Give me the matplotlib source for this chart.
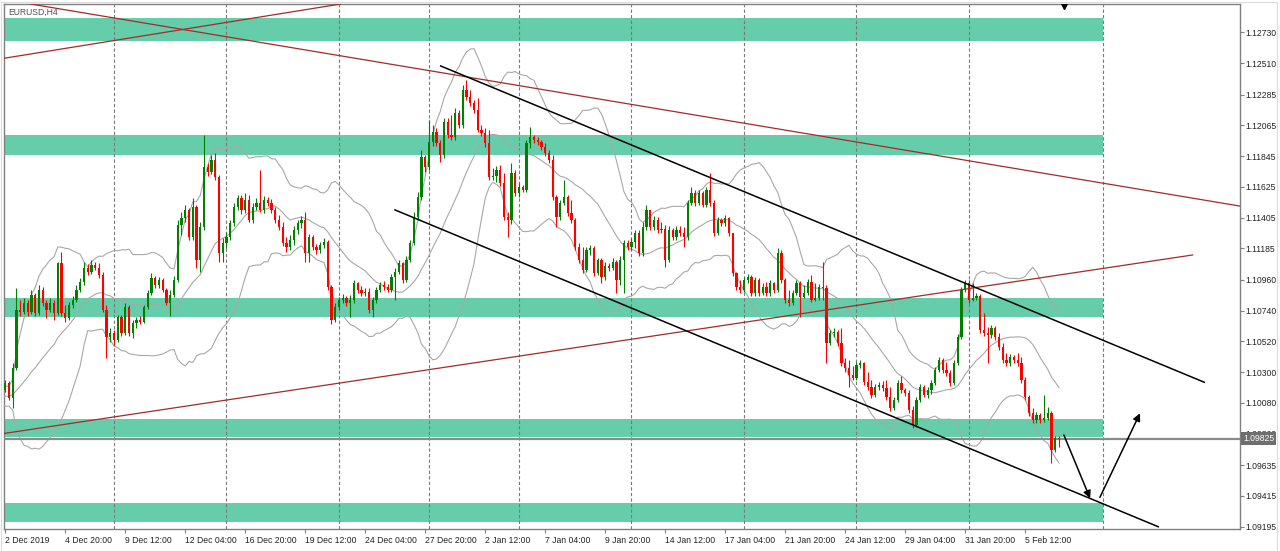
import matplotlib
matplotlib.use("Agg")
import matplotlib.pyplot as plt
import numpy as np
import pandas as pd
from matplotlib.patches import Rectangle
from matplotlib.transforms import blended_transform_factory

plt.rcParams["font.family"] = ["Liberation Sans", "DejaVu Sans"]

# EURUSD H4 candles, bars 1..282
prior_closes = [1.10115, 1.10137, 1.10094, 1.10122, 1.10158, 1.10130, 1.10072, 1.10101, 1.10144, 1.10165,
                1.10115, 1.10087, 1.10130, 1.10151, 1.10108, 1.10072, 1.10115, 1.10151, 1.10130, 1.10173]

closes = [
    1.10223, 1.10115, 1.10330, 1.10745, 1.10730, 1.10795, 1.10730, 1.10852, 1.10723, 1.10888,
    1.10795, 1.10745, 1.10795, 1.10723, 1.11081, 1.10723, 1.10687, 1.10780, 1.10816, 1.10888,
    1.10945, 1.11045, 1.11016, 1.11066, 1.11045, 1.10995, 1.10745, 1.10551, 1.10580, 1.10530,
    1.10694, 1.10580, 1.10766, 1.10580, 1.10652, 1.10673, 1.10659, 1.10766, 1.10866, 1.10973,
    1.10923, 1.10959, 1.10888, 1.10795, 1.10852, 1.10959, 1.11352, 1.11402, 1.11460, 1.11266,
    1.11481, 1.11102, 1.11338, 1.11767, 1.11731, 1.11817, 1.11695, 1.11152, 1.11224, 1.11266,
    1.11367, 1.11481, 1.11545, 1.11460, 1.11531, 1.11388, 1.11481, 1.11510, 1.11460, 1.11531,
    1.11510, 1.11460, 1.11388, 1.11338, 1.11224, 1.11195, 1.11245, 1.11317, 1.11367, 1.11388,
    1.11152, 1.11266, 1.11195, 1.11174, 1.11209, 1.11231, 1.10909, 1.10673, 1.10766, 1.10816,
    1.10830, 1.10795, 1.10816, 1.10938, 1.10888, 1.10866, 1.10873, 1.10745, 1.10816, 1.10888,
    1.10923, 1.10909, 1.10888, 1.10980, 1.11016, 1.11081, 1.10959, 1.11102, 1.11224, 1.11409,
    1.11552, 1.11838, 1.11767, 1.11946, 1.12017, 1.11939, 1.11853, 1.12089, 1.11996, 1.11981,
    1.12153, 1.12067, 1.12318, 1.12267, 1.12225, 1.12175, 1.12032, 1.12010, 1.11939, 1.11695,
    1.11700, 1.11746, 1.11653, 1.11409, 1.11388, 1.11724, 1.11581, 1.11624, 1.11603, 1.11939,
    1.11981, 1.11960, 1.11946, 1.11910, 1.11867, 1.11817, 1.11552, 1.11409, 1.11510, 1.11552,
    1.11438, 1.11388, 1.11195, 1.11102, 1.11031, 1.11174, 1.11188, 1.11009, 1.11102, 1.10980,
    1.11059, 1.11045, 1.11088, 1.10959, 1.11102, 1.11224, 1.11195, 1.11231, 1.11295, 1.11152,
    1.11338, 1.11460, 1.11338, 1.11388, 1.11317, 1.11324, 1.11102, 1.11317, 1.11266, 1.11317,
    1.11295, 1.11266, 1.11510, 1.11581, 1.11510, 1.11581, 1.11495, 1.11603, 1.11510, 1.11295,
    1.11388, 1.11367, 1.11402, 1.11295, 1.11009, 1.10909, 1.10888, 1.10959, 1.10980, 1.10866,
    1.10959, 1.10866, 1.10909, 1.10866, 1.10938, 1.10888, 1.11152, 1.10959, 1.10816, 1.10795,
    1.10866, 1.10938, 1.10837, 1.10866, 1.10945, 1.10816, 1.10830, 1.10909, 1.10902, 1.10509,
    1.10580, 1.10587, 1.10509, 1.10366, 1.10330, 1.10280, 1.10258, 1.10351, 1.10366, 1.10230,
    1.10194, 1.10137, 1.10194, 1.10208, 1.10187, 1.10122, 1.10044, 1.10101, 1.10223, 1.10173,
    1.10151, 1.10030, 1.09922, 1.10101, 1.10194, 1.10137, 1.10173, 1.10223, 1.10316, 1.10387,
    1.10316, 1.10294, 1.10223, 1.10366, 1.10551, 1.10888, 1.10938, 1.10816, 1.10830, 1.10845,
    1.10602, 1.10580, 1.10566, 1.10616, 1.10551, 1.10480, 1.10387, 1.10366, 1.10408, 1.10387,
    1.10366, 1.10244, 1.10122, 1.10008, 1.09958, 1.09994, 1.09958, 1.09972, 1.10008, 1.09744,
    1.09832, 1.09825,
]

highs = [
    1.10244, 1.10237, 1.10366, 1.10902, 1.10816, 1.10830, 1.10816, 1.10888, 1.10866, 1.10923,
    1.10909, 1.10816, 1.10830, 1.10816, 1.11088, 1.11159, 1.10780, 1.10802, 1.10845, 1.10923,
    1.10973, 1.11088, 1.11073, 1.11102, 1.11088, 1.11081, 1.11016, 1.10780, 1.10616, 1.10602,
    1.10709, 1.10709, 1.10795, 1.10780, 1.10673, 1.10694, 1.10702, 1.10780, 1.10888, 1.11009,
    1.10988, 1.10980, 1.10973, 1.10902, 1.10888, 1.10988, 1.11388, 1.11445, 1.11495, 1.11474,
    1.11545, 1.11495, 1.11374, 1.11996, 1.11796, 1.11853, 1.11867, 1.11710, 1.11259, 1.11302,
    1.11388, 1.11510, 1.11567, 1.11567, 1.11581, 1.11567, 1.11510, 1.11545, 1.11746, 1.11560,
    1.11552, 1.11538, 1.11481, 1.11424, 1.11374, 1.11266, 1.11281, 1.11345, 1.11388, 1.11417,
    1.11445, 1.11288, 1.11281, 1.11216, 1.11231, 1.11259, 1.11245, 1.10923, 1.10795, 1.10837,
    1.10859, 1.10845, 1.10852, 1.10959, 1.10945, 1.10916, 1.10902, 1.10902, 1.10837, 1.10909,
    1.10945, 1.10952, 1.10930, 1.11002, 1.11045, 1.11102, 1.11088, 1.11131, 1.11245, 1.11445,
    1.11588, 1.11889, 1.11853, 1.12103, 1.12067, 1.12046, 1.11960, 1.12117, 1.12117, 1.12139,
    1.12189, 1.12175, 1.12353, 1.12389, 1.12318, 1.12246, 1.12260, 1.12067, 1.12046, 1.12032,
    1.11760, 1.11774, 1.11781, 1.11724, 1.11445, 1.11796, 1.11746, 1.11653, 1.11638, 1.11960,
    1.12053, 1.11996, 1.11981, 1.11960, 1.11939, 1.11889, 1.11853, 1.11567, 1.11531, 1.11674,
    1.11567, 1.11531, 1.11402, 1.11224, 1.11195, 1.11195, 1.11209, 1.11202, 1.11116, 1.11116,
    1.11088, 1.11081, 1.11116, 1.11102, 1.11131, 1.11245, 1.11245, 1.11259, 1.11317, 1.11317,
    1.11374, 1.11495, 1.11460, 1.11417, 1.11409, 1.11374, 1.11352, 1.11345, 1.11331, 1.11345,
    1.11345, 1.11338, 1.11531, 1.11624, 1.11603, 1.11603, 1.11595, 1.11624, 1.11724, 1.11531,
    1.11409, 1.11402, 1.11424, 1.11409, 1.11259, 1.11016, 1.10959, 1.10980, 1.11002, 1.10995,
    1.10980, 1.10973, 1.10938, 1.10945, 1.10959, 1.10945, 1.11188, 1.11174, 1.10973, 1.10888,
    1.10888, 1.10959, 1.10952, 1.10923, 1.10966, 1.10995, 1.10938, 1.10930, 1.11088, 1.10923,
    1.10602, 1.10616, 1.10602, 1.10616, 1.10401, 1.10387, 1.10344, 1.10373, 1.10387, 1.10373,
    1.10301, 1.10244, 1.10215, 1.10230, 1.10237, 1.10244, 1.10194, 1.10122, 1.10244, 1.10273,
    1.10187, 1.10173, 1.10058, 1.10122, 1.10215, 1.10208, 1.10194, 1.10244, 1.10337, 1.10408,
    1.10401, 1.10373, 1.10316, 1.10387, 1.10573, 1.10909, 1.10959, 1.10959, 1.10938, 1.10866,
    1.10859, 1.10723, 1.10623, 1.10637, 1.10630, 1.10580, 1.10509, 1.10437, 1.10430, 1.10423,
    1.10437, 1.10408, 1.10265, 1.10137, 1.10044, 1.10015, 1.10008, 1.10137, 1.10051, 1.10022,
    1.09844, 1.09844,
]

lows = [
    1.10158, 1.10101, 1.10044, 1.10316, 1.10702, 1.10716, 1.10702, 1.10716, 1.10702, 1.10709,
    1.10773, 1.10687, 1.10730, 1.10673, 1.10709, 1.10702, 1.10659, 1.10673, 1.10759, 1.10802,
    1.10873, 1.10923, 1.10995, 1.11002, 1.11031, 1.10973, 1.10730, 1.10401, 1.10516, 1.10494,
    1.10516, 1.10559, 1.10566, 1.10559, 1.10544, 1.10616, 1.10644, 1.10652, 1.10752, 1.10852,
    1.10902, 1.10902, 1.10873, 1.10780, 1.10702, 1.10837, 1.10945, 1.11281, 1.11374, 1.11245,
    1.11245, 1.11045, 1.11016, 1.11317, 1.11703, 1.11717, 1.11674, 1.11088, 1.11088, 1.11188,
    1.11245, 1.11345, 1.11460, 1.11431, 1.11438, 1.11374, 1.11367, 1.11460, 1.11445, 1.11438,
    1.11488, 1.11438, 1.11367, 1.11317, 1.11202, 1.11159, 1.11174, 1.11209, 1.11288, 1.11331,
    1.11088, 1.11088, 1.11174, 1.11145, 1.11152, 1.11188, 1.10888, 1.10644, 1.10659, 1.10745,
    1.10795, 1.10773, 1.10694, 1.10795, 1.10866, 1.10845, 1.10845, 1.10723, 1.10694, 1.10795,
    1.10873, 1.10888, 1.10873, 1.10873, 1.10816, 1.11002, 1.10938, 1.10945, 1.11088, 1.11209,
    1.11388, 1.11531, 1.11731, 1.11746, 1.11917, 1.11917, 1.11803, 1.11831, 1.11974, 1.11960,
    1.11960, 1.12046, 1.12046, 1.12246, 1.12203, 1.12153, 1.12017, 1.11989, 1.11910, 1.11674,
    1.11674, 1.11660, 1.11631, 1.11388, 1.11266, 1.11359, 1.11560, 1.11552, 1.11588, 1.11588,
    1.11903, 1.11939, 1.11924, 1.11889, 1.11846, 1.11796, 1.11531, 1.11338, 1.11388, 1.11495,
    1.11417, 1.11367, 1.11174, 1.11081, 1.11009, 1.11016, 1.11138, 1.10988, 1.10995, 1.10938,
    1.10959, 1.11023, 1.11031, 1.10866, 1.10923, 1.10866, 1.11174, 1.11174, 1.11188, 1.11131,
    1.11131, 1.11317, 1.11317, 1.11317, 1.11295, 1.11295, 1.11052, 1.11088, 1.11245, 1.11245,
    1.11274, 1.11195, 1.11245, 1.11495, 1.11488, 1.11495, 1.11481, 1.11481, 1.11488, 1.11274,
    1.11281, 1.11345, 1.11345, 1.11274, 1.10988, 1.10888, 1.10866, 1.10873, 1.10938, 1.10845,
    1.10845, 1.10845, 1.10852, 1.10845, 1.10845, 1.10866, 1.10873, 1.10938, 1.10795, 1.10773,
    1.10780, 1.10852, 1.10694, 1.10830, 1.10852, 1.10802, 1.10809, 1.10816, 1.10816, 1.10366,
    1.10494, 1.10551, 1.10487, 1.10344, 1.10301, 1.10194, 1.10244, 1.10244, 1.10330, 1.10208,
    1.10173, 1.10115, 1.10122, 1.10173, 1.10165, 1.10101, 1.10022, 1.10030, 1.10087, 1.10151,
    1.10130, 1.10008, 1.09901, 1.09908, 1.10087, 1.10122, 1.10115, 1.10144, 1.10208, 1.10301,
    1.10294, 1.10273, 1.10201, 1.10208, 1.10351, 1.10537, 1.10873, 1.10795, 1.10809, 1.10816,
    1.10580, 1.10559, 1.10366, 1.10544, 1.10530, 1.10459, 1.10366, 1.10344, 1.10344, 1.10366,
    1.10344, 1.10223, 1.10101, 1.09987, 1.09937, 1.09937, 1.09937, 1.09944, 1.09958, 1.09651,
    1.09729, 1.09765,
]

time_labels = ["2 Dec 2019", "4 Dec 20:00", "9 Dec 12:00", "12 Dec 04:00", "16 Dec 20:00",
               "19 Dec 12:00", "24 Dec 04:00", "27 Dec 20:00", "2 Jan 12:00", "7 Jan 04:00",
               "9 Jan 20:00", "14 Jan 12:00", "17 Jan 04:00", "21 Jan 20:00", "24 Jan 12:00",
               "29 Jan 04:00", "31 Jan 20:00", "5 Feb 12:00"]
price_ticks = [1.12730, 1.12510, 1.12285, 1.12065, 1.11845, 1.11625, 1.11405, 1.11185, 1.10960,
               1.10740, 1.10520, 1.10300, 1.10080, 1.09860, 1.09635, 1.09415, 1.09195]
last_price = 1.09825

# support / resistance zones (top, bottom)
zones = [(1.12830, 1.12670), (1.11996, 1.11849), (1.10828, 1.10697),
         (1.09965, 1.09840), (1.09362, 1.09231)]

# drawn objects, (bar, price) anchors
red_ray_down = [(8.4, 1.12929), (329.7, 1.11490)]
red_ray_up = [(0.67, 1.12544), (91.6, 1.12937)]
red_segment = [(0.67, 1.09862), (317.65, 1.11138)]
channel_top = [(117.12, 1.12489), (320.75, 1.10228)]
channel_bottom = [(104.93, 1.11460), (308.48, 1.09195)]
arrow_down = [(283.3, 1.09851), (290.3, 1.09398)]
arrow_up = [(292.9, 1.09405), (303.6, 1.10006)]
shift_mark = (283.3, 1.12918)

week_lines = [30, 60, 90, 114, 138, 168, 198, 228, 258, 293.7]
zone_end = 293.7

GREEN = "#008000"
RED = "#ff0000"
ZONE = "#66cdaa"
FS = 6.2

fig = plt.figure(figsize=(12.8, 5.51), dpi=100)
ax = fig.add_axes([4 / 1280, 1 - 529 / 551, 1236 / 1280, 525 / 551])
xmin, xmax = 0.667, 330.27
ax.set_xlim(xmin, xmax)
ax.set_ylim(1.09179, 1.12932)

for top, bot in zones:
    ax.fill_between([xmin, zone_end], bot, top, color=ZONE, lw=0, zorder=1)

for b in week_lines:
    ax.axvline(b, color="#7a7a7a", lw=0.8, ls=(0, (3, 2)), zorder=2)

# Bollinger bands 20, 2
c = np.asarray(closes)
allc = pd.Series(np.r_[prior_closes, c])
mid = allc.rolling(20, min_periods=10).mean()
sd = allc.rolling(20, min_periods=10).std(ddof=0)
bx = np.arange(1 - len(prior_closes), len(c) + 1)
for s in (mid, mid + 2 * sd, mid - 2 * sd):
    ax.plot(bx, s, color="#a8a8a8", lw=0.8, zorder=3)

# candles
idx = np.arange(1, len(c) + 1)
o = np.r_[prior_closes[-1], c[:-1]]
h = np.maximum(np.asarray(highs), np.maximum(o, c))
l = np.minimum(np.asarray(lows), np.minimum(o, c))
col = np.where(c >= o, GREEN, RED)
ax.vlines(idx, l, h, colors=col, lw=0.8, zorder=4)
ax.bar(idx, np.maximum(np.abs(c - o), 0.00003), bottom=np.minimum(o, c), width=0.62,
       color=col, lw=0, zorder=4)

ax.axhline(last_price, color="#8a8a8a", lw=1.6, zorder=3)

ax.axline(*red_ray_down, color="#a52a2a", lw=0.9, zorder=5)
ax.axline(*red_ray_up, color="#a52a2a", lw=0.9, zorder=5)
ax.plot(*zip(*red_segment), color="#a52a2a", lw=0.9, zorder=5)
ax.plot(*zip(*channel_top), color="black", lw=1.1, zorder=6)
ax.plot(*zip(*channel_bottom), color="black", lw=1.1, zorder=6)
for start, tip in (arrow_down, arrow_up):
    ax.annotate("", xy=tip, xytext=start,
                arrowprops=dict(arrowstyle="-|>", color="black", lw=1.1,
                                mutation_scale=11, shrinkA=0, shrinkB=0), zorder=7)
ax.plot(*shift_mark, marker="v", ms=5, color="black", zorder=7)

# axes styling
for sp in ax.spines.values():
    sp.set_color("#808080")
    sp.set_linewidth(1.0)
ax.set_xticks([16 * k + 1 for k in range(len(time_labels))])
ax.set_xticklabels(time_labels)
for t in ax.get_xticklabels():
    t.set_ha("left")
ax.tick_params(axis="x", length=3, width=0.8, color="#808080", pad=2, labelsize=FS,
               labelcolor="#222222")
ax.yaxis.tick_right()
ax.set_yticks(price_ticks)
ax.set_yticklabels([f"{p:.5f}" for p in price_ticks])
ax.tick_params(axis="y", length=3, width=0.8, color="#808080", pad=1, labelsize=FS,
               labelcolor="#222222")

tr = blended_transform_factory(ax.transAxes, ax.transData)
ax.text(1.0 + 3 / 1236, last_price, "1.09825", transform=tr, ha="left", va="center",
        fontsize=FS, color="white", clip_on=False, zorder=10,
        bbox=dict(boxstyle="square,pad=0.25", fc="#6e6e6e", ec="none"))

fig.text(8 / 1280, 1 - 12 / 551, "EURUSD,H4", fontsize=FS, color="#505050", va="center")
fig.patches.append(Rectangle((0.5 / 1280, 0.5 / 551), 1276.5 / 1280, 548.5 / 551,
                             transform=fig.transFigure, fill=False, ec="#dcdcdc", lw=0.8))

fig.savefig("out.png", dpi=100)
